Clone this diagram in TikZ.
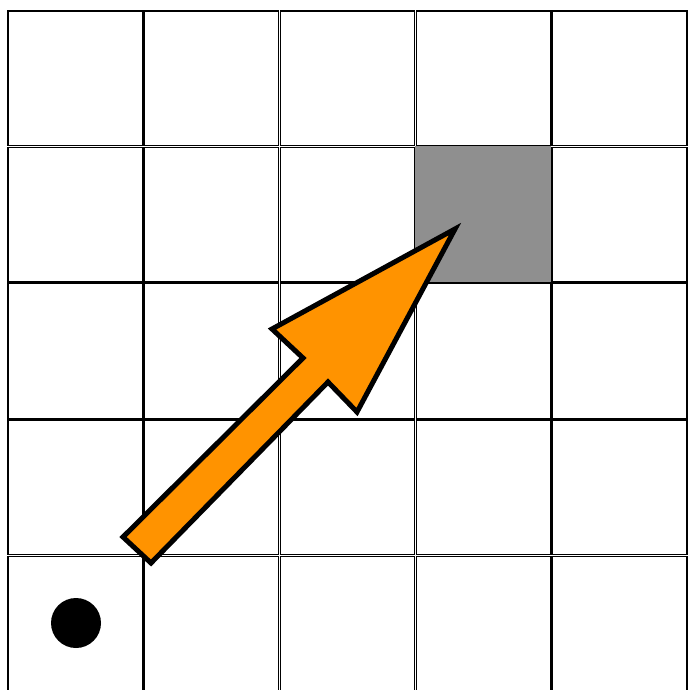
\documentclass[tikz,border=0pt]{standalone}
\usepackage{tikz}
\definecolor{arroworange}{HTML}{FF9300}
\definecolor{cellgray}{HTML}{8F8F8F}
\begin{document}
\begin{tikzpicture}[x=1pt,y=-1pt,
  cellbox/.style={draw=black,line width=1.4pt},
  goal/.style={fill=cellgray,draw=cellgray,line width=1.5pt},
  bigarrow/.style={fill=arroworange,draw=black,line width=5pt,line join=miter,miter limit=10}]
\useasboundingbox (0,0) rectangle (689,690);
\fill[white] (0,0) rectangle (689,690);
\foreach \i in {0,...,4}{
  \foreach \j in {0,...,5}{
    \draw[cellbox] ({7+136.2*\i+0.9},{10+136.4*\j+0.9}) rectangle ({7+136.2*(\i+1)-0.9},{10+136.4*(\j+1)-0.9});
  }
}
\draw[goal] (416,147) rectangle (550,281);
\fill[black] (76,623) circle (25);
\draw[bigarrow] (123,537) -- (303,358) -- (272,329) -- (455,229) -- (357,412) -- (328,382) -- (151,563) -- cycle;
\end{tikzpicture}
\end{document}
